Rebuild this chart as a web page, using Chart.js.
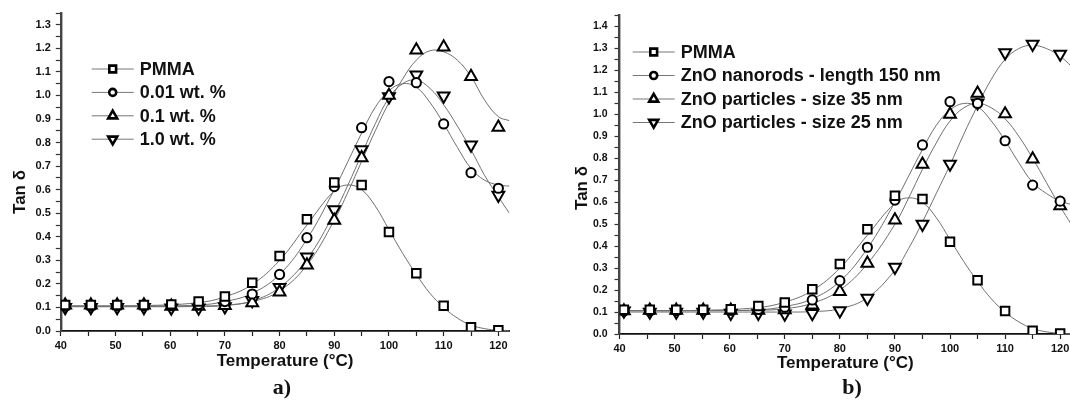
<!DOCTYPE html>
<html>
<head>
<meta charset="utf-8">
<title>Tan δ vs temperature</title>
<script src="https://cdn.jsdelivr.net/npm/chart.js@4.4.1/dist/chart.umd.min.js"></script>
<style>
  html, body { margin: 0; padding: 0; background: #fff; overflow: hidden; }
  body { width: 1070px; height: 404px; position: relative; }
  canvas { position: absolute; top: 0; }
  #chartA { left: 0; }
  #chartB { left: 540px; }
  .tag { position: absolute; font: bold 22px "Liberation Serif", "Times New Roman", serif; color: #111;
         transform: translate(-50%, -50%); }
</style>
</head>
<body>
<canvas id="chartA" width="520" height="404"></canvas>
<canvas id="chartB" width="540" height="404"></canvas>
<div class="tag" style="left:282px; top:387px">a)</div>
<div class="tag" style="left:852px; top:387px">b)</div>
<script>
// measured temperatures (°C), same for every series
const temps = [40.8, 45.5, 50.3, 55.2, 60.2, 65.2, 70, 75, 80, 85, 90, 95, 100, 105, 110, 115, 120];

// panel a) measured tan delta
const pmmaA   = [0.11, 0.11, 0.11, 0.11, 0.113, 0.125, 0.146, 0.205, 0.318, 0.474, 0.63, 0.62, 0.42, 0.245, 0.107, 0.016, 0.003];
const wt001A  = [0.105, 0.105, 0.107, 0.107, 0.108, 0.112, 0.125, 0.157, 0.24, 0.396, 0.613, 0.863, 1.059, 1.054, 0.879, 0.672, 0.606];
const wt01A   = [0.11, 0.11, 0.11, 0.11, 0.105, 0.105, 0.108, 0.12, 0.165, 0.28, 0.47, 0.735, 1.0, 1.193, 1.205, 1.08, 0.865];
const wt10A   = [0.1, 0.1, 0.1, 0.1, 0.098, 0.098, 0.103, 0.13, 0.185, 0.315, 0.515, 0.77, 0.995, 1.087, 0.998, 0.79, 0.577];

// panel b) measured tan delta
const pmmaB   = [0.11, 0.11, 0.11, 0.11, 0.113, 0.127, 0.143, 0.204, 0.319, 0.477, 0.63, 0.615, 0.42, 0.245, 0.105, 0.015, 0.002];
const rodsB   = [0.105, 0.105, 0.107, 0.107, 0.108, 0.112, 0.122, 0.155, 0.243, 0.395, 0.61, 0.861, 1.058, 1.05, 0.88, 0.678, 0.605];
const p35B    = [0.105, 0.108, 0.108, 0.108, 0.108, 0.108, 0.11, 0.132, 0.193, 0.322, 0.519, 0.773, 1.0, 1.096, 1.002, 0.797, 0.584];
const p25B    = [0.105, 0.1, 0.1, 0.1, 0.095, 0.095, 0.091, 0.094, 0.106, 0.163, 0.304, 0.50, 0.774, 1.053, 1.281, 1.32, 1.275];

// fitted curves at these temperatures
const fitTemps = [40, 55, 65, 70, 75, 80, 85, 90, 92.5, 95, 97.5, 100, 102.5, 105, 107.5, 110, 112.5, 115, 117.5, 120, 122];
const pmmaFit   = [0.107, 0.108, 0.12, 0.145, 0.198, 0.3, 0.45, 0.595, 0.62, 0.6, 0.53, 0.43, 0.33, 0.24, 0.16, 0.1, 0.055, 0.025, 0.01, 0.003, 0.001];
const wt001Fit  = [0.105, 0.106, 0.11, 0.125, 0.16, 0.24, 0.39, 0.6, 0.72, 0.84, 0.95, 1.02, 1.05, 1.035, 0.97, 0.88, 0.78, 0.69, 0.64, 0.62, 0.615];
const wt01Fit   = [0.105, 0.105, 0.106, 0.11, 0.125, 0.17, 0.28, 0.47, 0.59, 0.72, 0.85, 0.97, 1.07, 1.15, 1.19, 1.185, 1.15, 1.08, 0.98, 0.91, 0.893];
const wt10Fit   = [0.103, 0.103, 0.104, 0.108, 0.128, 0.185, 0.305, 0.5, 0.62, 0.75, 0.88, 0.99, 1.05, 1.065, 1.03, 0.96, 0.87, 0.77, 0.66, 0.57, 0.5];
const rodsFit   = [0.105, 0.106, 0.11, 0.125, 0.16, 0.24, 0.39, 0.6, 0.72, 0.84, 0.95, 1.02, 1.05, 1.035, 0.97, 0.88, 0.78, 0.69, 0.64, 0.605, 0.59];
const p35Fit    = [0.107, 0.107, 0.108, 0.115, 0.14, 0.2, 0.32, 0.5, 0.62, 0.75, 0.87, 0.97, 1.03, 1.05, 1.03, 0.98, 0.9, 0.8, 0.69, 0.58, 0.5];
const p25Fit    = [0.1, 0.1, 0.1, 0.1, 0.102, 0.115, 0.165, 0.29, 0.39, 0.51, 0.64, 0.77, 0.91, 1.04, 1.16, 1.25, 1.3, 1.315, 1.3, 1.265, 1.22];

const labelsA = ['PMMA', '0.01 wt. %', '0.1 wt. %', '1.0 wt. %'];
const labelsB = ['PMMA', 'ZnO nanorods - length 150 nm', 'ZnO particles - size 35 nm', 'ZnO particles - size 25 nm'];

// axis ticks
const xTicks = [40, 45, 50, 55, 60, 65, 70, 75, 80, 85, 90, 95, 100, 105, 110, 115, 120];
const xLabels = [40, 50, 60, 70, 80, 90, 100, 110, 120];
const yMajorA = [0, 0.1, 0.2, 0.3, 0.4, 0.5, 0.6, 0.7, 0.8, 0.9, 1.0, 1.1, 1.2, 1.3];
const yMajorB = [0, 0.1, 0.2, 0.3, 0.4, 0.5, 0.6, 0.7, 0.8, 0.9, 1.0, 1.1, 1.2, 1.3, 1.4];

const FONT = '"Liberation Sans", Arial, sans-serif';
Chart.defaults.font.family = FONT;
Chart.defaults.color = '#111';

const styles = [
  { pointStyle: 'rect', radius: 6, rotation: 0, legendRadius: 4.8 },
  { pointStyle: 'circle', radius: 4.6, rotation: 0, legendRadius: 3.5 },
  { pointStyle: 'triangle', radius: 6.8, rotation: 0, legendRadius: 5.2 },
  { pointStyle: 'triangle', radius: 6.8, rotation: 180, legendRadius: 5.2 }
];

function pts(xs, ys) {
  return xs.map((x, i) => ({ x: x, y: ys[i] }));
}

// small marker drawer for the in-plot legend
function marker(ctx, st, x, y) {
  const r = st.legendRadius;
  ctx.beginPath();
  if (st.pointStyle === 'rect') {
    const s = r * Math.SQRT1_2;
    ctx.rect(x - s, y - s, 2 * s, 2 * s);
  } else if (st.pointStyle === 'circle') {
    ctx.arc(x, y, r, 0, Math.PI * 2);
  } else {
    let a = st.rotation * Math.PI / 180;
    ctx.moveTo(x + Math.sin(a) * r, y - Math.cos(a) * r);
    for (let k = 0; k < 2; k++) {
      a += Math.PI * 2 / 3;
      ctx.lineTo(x + Math.sin(a) * r, y - Math.cos(a) * r);
    }
    ctx.closePath();
  }
  ctx.fill();
  ctx.stroke();
}

const decor = {
  id: 'decor',
  afterDraw(chart, args, o) {
    const ctx = chart.ctx;
    ctx.save();
    ctx.fillStyle = '#111';
    ctx.font = 'bold 17px ' + FONT;
    ctx.textAlign = 'center';
    ctx.textBaseline = 'middle';
    ctx.translate(o.titleX, o.titleY);
    ctx.rotate(-Math.PI / 2);
    ctx.fillText('Tan δ', 0, 0);
    ctx.restore();

    ctx.save();
    o.labels.forEach((lab, i) => {
      const y = o.legendY + i * o.legendGap;
      ctx.strokeStyle = '#777';
      ctx.lineWidth = 1;
      ctx.beginPath();
      ctx.moveTo(o.legendX, y);
      ctx.lineTo(o.legendX + 42, y);
      ctx.stroke();
      ctx.fillStyle = '#fff';
      ctx.strokeStyle = '#000';
      ctx.lineWidth = 2.6;
      marker(ctx, styles[i], o.legendX + 21, y);
      ctx.fillStyle = '#111';
      ctx.font = 'bold 18px ' + FONT;
      ctx.textAlign = 'left';
      ctx.textBaseline = 'middle';
      ctx.fillText(lab, o.legendX + 48, y + 1);
    });
    ctx.restore();
  }
};

function buildChart(id, cfg) {
  const datasets = [];
  cfg.fits.forEach(f => {
    datasets.push({
      data: pts(fitTemps, f), borderColor: '#707070', borderWidth: 1,
      pointRadius: 0, tension: 0.4, fill: false, order: 2
    });
  });
  cfg.series.forEach((s, i) => {
    datasets.push({
      label: cfg.labels[i], data: pts(temps, s), showLine: false,
      pointStyle: styles[i].pointStyle, pointRadius: styles[i].radius, pointRotation: styles[i].rotation,
      pointBorderWidth: 2, pointBorderColor: '#000', pointBackgroundColor: '#fff', order: 1
    });
  });

  return new Chart(document.getElementById(id), {
    type: 'line',
    data: { datasets: datasets },
    plugins: [decor],
    options: {
      responsive: false,
      animation: false,
      devicePixelRatio: 1,
      layout: { padding: { top: cfg.padTop, right: cfg.padRight, left: 0, bottom: 0 } },
      plugins: {
        legend: { display: false },
        tooltip: { enabled: false },
        decor: cfg.decor
      },
      scales: {
        x: {
          type: 'linear', min: 40, max: 122,
          afterBuildTicks: s => { s.ticks = xTicks.map(v => ({ value: v })); },
          ticks: {
            autoSkip: false, maxRotation: 0, padding: 3, color: '#111',
            font: { size: 11, weight: 'bold' },
            callback: v => xLabels.includes(v) ? String(v) : ''
          },
          grid: { drawOnChartArea: false, tickLength: 5, tickColor: '#222', tickWidth: 1.2 },
          border: { color: '#111', width: 1.8 },
          title: {
            display: true, text: 'Temperature (°C)', color: '#111',
            font: { size: 17, weight: 'bold' }, padding: { top: 0, bottom: cfg.titlePad }
          },
          afterFit: s => { s.height = cfg.xHeight; }
        },
        y: {
          type: 'linear', min: 0, max: cfg.yMax,
          afterBuildTicks: s => {
            const t = [];
            cfg.yMajor.forEach(m => {
              t.push({ value: m });
              if (m + 0.05 <= cfg.yMax + 1e-9) t.push({ value: m + 0.05 });
            });
            s.ticks = t;
          },
          ticks: {
            autoSkip: false, padding: cfg.yPad, color: '#111',
            font: { size: cfg.yFont, weight: 'bold' },
            callback: v => {
              const m = cfg.yMajor.find(k => Math.abs(k - v) < 1e-6);
              return m === undefined ? '' : m.toFixed(1);
            }
          },
          grid: { drawOnChartArea: false, tickLength: 5, tickColor: '#333', tickWidth: 1.2 },
          border: { color: '#444', width: 2.4 },
          afterFit: s => { s.width = cfg.yWidth; }
        }
      }
    }
  });
}

buildChart('chartA', {
  series: [pmmaA, wt001A, wt01A, wt10A],
  fits: [pmmaFit, wt001Fit, wt01Fit, wt10Fit],
  labels: labelsA,
  yMajor: yMajorA, yMax: 1.35,
  padTop: 13, padRight: 10.7, yWidth: 60.8, xHeight: 73, titlePad: 32, yPad: 5, yFont: 11,
  decor: { labels: labelsA, titleX: 20, titleY: 192, legendX: 91.7, legendY: 69, legendGap: 23.4 }
});

buildChart('chartB', {
  series: [pmmaB, rodsB, p35B, p25B],
  fits: [pmmaFit, rodsFit, p35Fit, p25Fit],
  labels: labelsB,
  yMajor: yMajorB, yMax: 1.45,
  padTop: 15.6, padRight: 0, yWidth: 79.5, xHeight: 70, titlePad: 30.5, yPad: 7, yFont: 10.5,
  decor: { labels: labelsB, titleX: 42, titleY: 188, legendX: 92.7, legendY: 52, legendGap: 23.5 }
});
</script>
</body>
</html>
